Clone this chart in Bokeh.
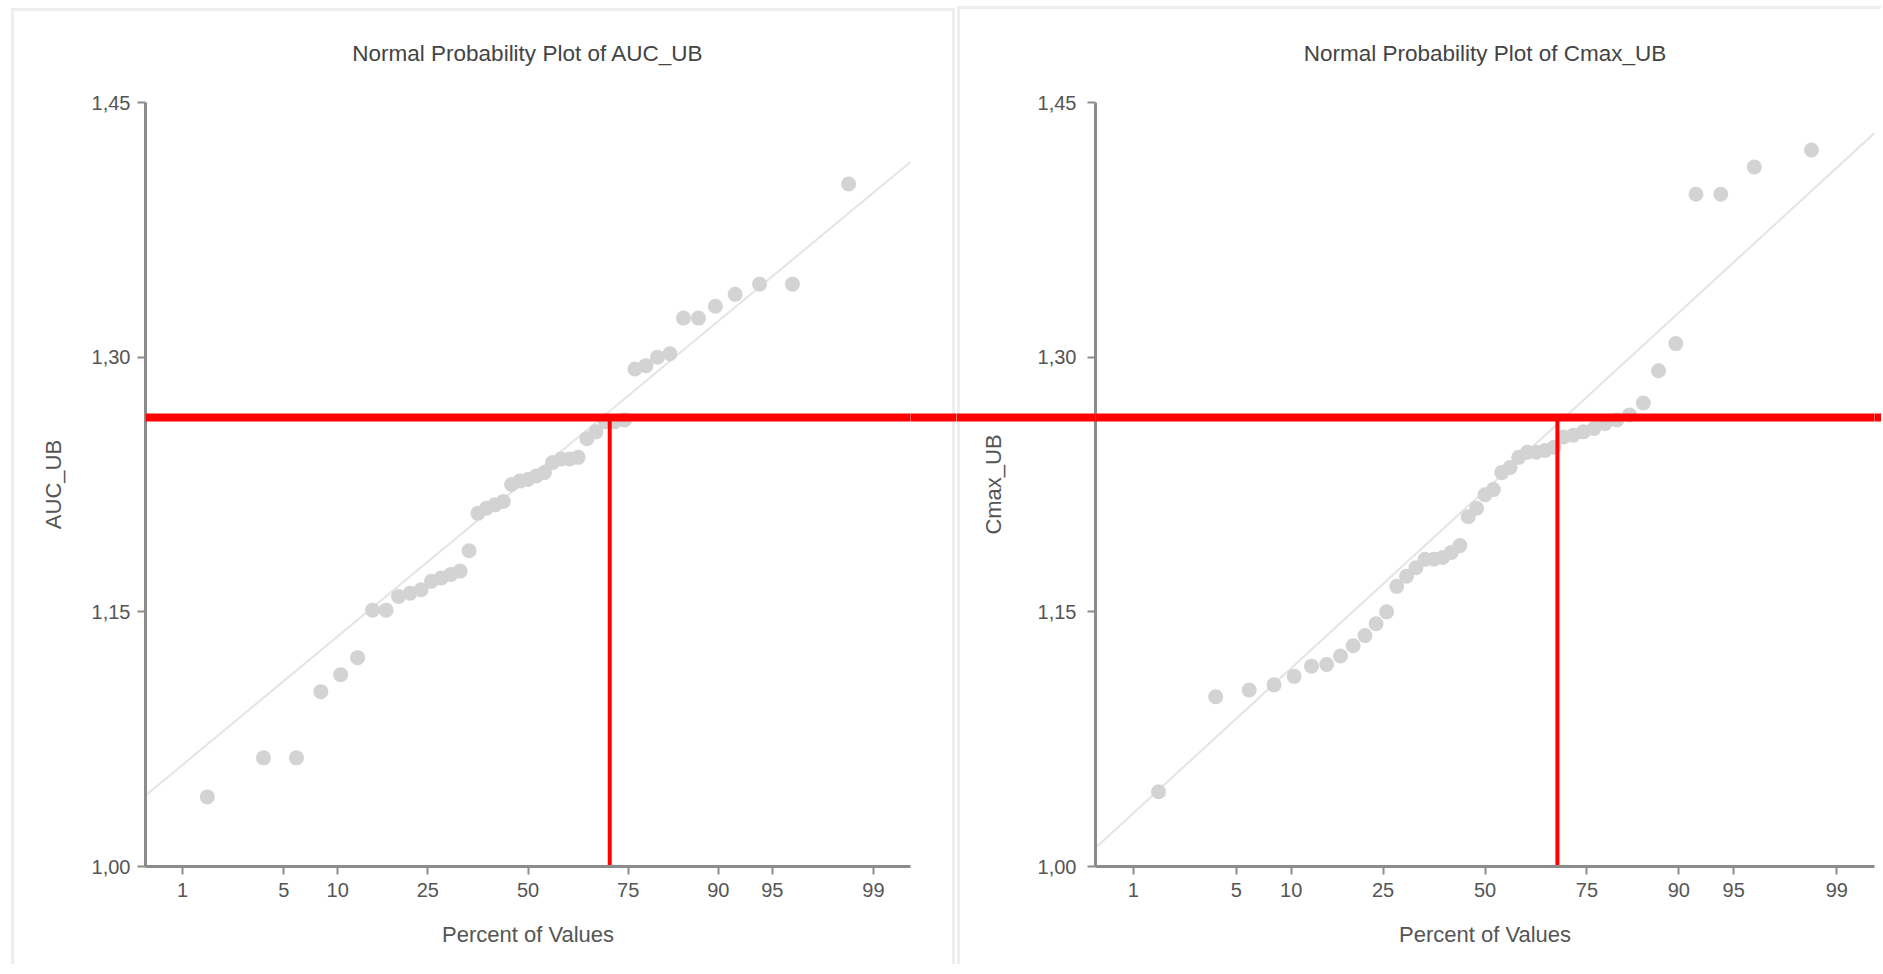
from statistics import NormalDist

from bokeh.plotting import figure
from bokeh.layouts import row
from bokeh.models import (FixedTicker, CustomJSTickFormatter, Span, LinearAxis,
                          Range1d, ColumnDataSource)
from bokeh.embed import file_html
from bokeh.resources import INLINE

# ---------------- data ----------------
auc_ub = [1.041, 1.064, 1.064, 1.103, 1.113, 1.123, 1.151, 1.151, 1.159, 1.161,
          1.163, 1.168, 1.170, 1.172, 1.174, 1.186, 1.208, 1.211, 1.213, 1.215,
          1.225, 1.227, 1.228, 1.230, 1.232, 1.238, 1.240, 1.240, 1.241, 1.252,
          1.256, 1.262, 1.262, 1.263, 1.293, 1.295, 1.300, 1.302, 1.323, 1.323,
          1.330, 1.337, 1.343, 1.343, 1.402]
cmax_ub = [1.044, 1.100, 1.104, 1.107, 1.112, 1.118, 1.119, 1.124, 1.130, 1.136,
           1.143, 1.150, 1.165, 1.171, 1.176, 1.181, 1.181, 1.182, 1.185, 1.189,
           1.206, 1.211, 1.219, 1.222, 1.232, 1.235, 1.241, 1.244, 1.244, 1.245,
           1.247, 1.253, 1.254, 1.256, 1.258, 1.261, 1.263, 1.266, 1.273, 1.292,
           1.308, 1.396, 1.396, 1.412, 1.422]
pct_ticks = [1, 5, 10, 25, 50, 75, 90, 95, 99]
pct_labels = ["1", "5", "10", "25", "50", "75", "90", "95", "99"]
y_ticks = [1.00, 1.15, 1.30, 1.45]
pct_range = [0.5, 99.5]
auc_fit = [1.0418, 1.415]      # reference line at 0.5 % and 99.5 %
cmax_fit = [1.011, 1.432]
ref_value = 1.2645             # red horizontal marker
auc_ref_pct = 70.9             # red vertical markers
cmax_ref_pct = 68.4

# ---------------- helpers ----------------
nd = NormalDist()


def zq(pct):
    return nd.inv_cdf(pct / 100.0)


zlo, zhi = zq(pct_range[0]), zq(pct_range[1])
zticks = [zq(p) for p in pct_ticks]
H = 964
FONT = "Liberation Sans"
GREY_TXT = "#555555"
AXIS_COL = "#8c8c8c"
RED = "#ff0000"
TICK_OUT = 8


def panel(values, fit, ref_pct, name, width, ml, mr, mt, mb,
          ylab_standoff, ytick_standoff, red_left_len, red_right_len, shadow):
    vals = sorted(values)
    n = len(vals)
    xs = [nd.inv_cdf((i + 1 - 0.3) / (n + 0.4)) for i in range(n)]
    src = ColumnDataSource(dict(x=xs, y=vals))

    p = figure(width=width, height=H, output_backend="svg", toolbar_location=None,
               x_range=Range1d(zlo, zhi), y_range=Range1d(y_ticks[0], y_ticks[-1]),
               min_border_left=ml, min_border_right=mr, min_border_top=mt,
               min_border_bottom=mb, title="Normal Probability Plot of " + name,
               styles={"box-shadow": shadow})
    p.outline_line_color = None
    p.grid.visible = False
    p.background_fill_color = "white"
    p.border_fill_color = None

    p.title.align = "center"
    p.title.text_font = FONT
    p.title.text_font_size = "22.5px"
    p.title.text_font_style = "normal"
    p.title.text_color = "#444444"
    p.title.standoff = 73

    for ax in (p.xaxis[0], p.yaxis[0]):
        ax.axis_line_color = AXIS_COL
        ax.axis_line_width = 3
        ax.major_tick_line_color = AXIS_COL
        ax.major_tick_line_width = 2
        ax.major_tick_out = TICK_OUT
        ax.major_tick_in = 0
        ax.minor_tick_line_color = None
        ax.major_label_text_font = FONT
        ax.major_label_text_font_size = "20px"
        ax.major_label_text_color = GREY_TXT
        ax.axis_label_text_font = FONT
        ax.axis_label_text_font_size = "22px"
        ax.axis_label_text_font_style = "normal"
        ax.axis_label_text_color = GREY_TXT

    p.xaxis.ticker = FixedTicker(ticks=zticks)
    p.xaxis.formatter = CustomJSTickFormatter(
        args=dict(zt=zticks, lab=pct_labels),
        code="""
        for (let i = 0; i < zt.length; i++) {
            if (Math.abs(zt[i] - tick) < 1e-6) { return lab[i]; }
        }
        return '';
        """)
    p.xaxis.axis_label = "Percent of Values"
    p.xaxis.major_label_standoff = 8
    p.xaxis.axis_label_standoff = 22

    yax = p.yaxis[0]
    yax.formatter = CustomJSTickFormatter(
        code="return tick.toFixed(2).replace('.', ',');")
    yax.axis_label = name
    yax.axis_label_standoff = ylab_standoff
    if red_left_len > 0:
        # red marker continues through the margin left of the frame
        # (drawn as a long red minor tick; label standoff compensates its length)
        yax.ticker = FixedTicker(ticks=y_ticks, minor_ticks=[ref_value])
        yax.minor_tick_line_color = RED
        yax.minor_tick_line_width = 8
        yax.minor_tick_out = red_left_len
        yax.minor_tick_in = 0
        yax.major_label_standoff = ytick_standoff + TICK_OUT - red_left_len
    else:
        yax.ticker = FixedTicker(ticks=y_ticks)
        yax.major_label_standoff = ytick_standoff

    # red marker continues through the margin right of the frame
    ext = LinearAxis(ticker=FixedTicker(ticks=[], minor_ticks=[ref_value]),
                     axis_line_color=None, major_tick_line_color=None,
                     major_label_text_font_size="0px",
                     minor_tick_line_color=RED, minor_tick_line_width=8,
                     minor_tick_out=red_right_len, minor_tick_in=0)
    p.add_layout(ext, "right")

    # fitted reference line and points
    p.line([zlo, zhi], fit, line_color="#e4e4e4", line_width=2)
    p.scatter("x", "y", source=src, size=15, fill_color="#d3d3d3", line_color=None)

    # red markers inside the frame
    p.add_layout(Span(location=ref_value, dimension="width", line_color=RED,
                      line_width=8, level="overlay"))
    zr = zq(ref_pct)
    p.segment(x0=[zr], y0=[ref_value], x1=[zr], y1=[y_ticks[0]],
              line_color=RED, line_width=4)
    return p


left = panel(auc_ub, auc_fit, auc_ref_pct, "AUC_UB",
             956, 145, 46, 102, 98, 23, 7, 0, 46,
             "inset 11px 8px 0 0 #ffffff, inset -1px 0 0 0 #ffffff, "
             "inset 14px 11px 0 0 #eeeeee, inset -4px 0 0 0 #eeeeee")
right = panel(cmax_ub, cmax_fit, cmax_ref_pct, "Cmax_UB",
              925, 139, 7, 101, 97, 29, 11, 139, 7,
              "inset 1px 6px 0 0 #ffffff, inset 4px 9px 0 0 #eeeeee")

layout = row(left, right, spacing=0)
open("out.html", "w").write(file_html(layout, INLINE))
